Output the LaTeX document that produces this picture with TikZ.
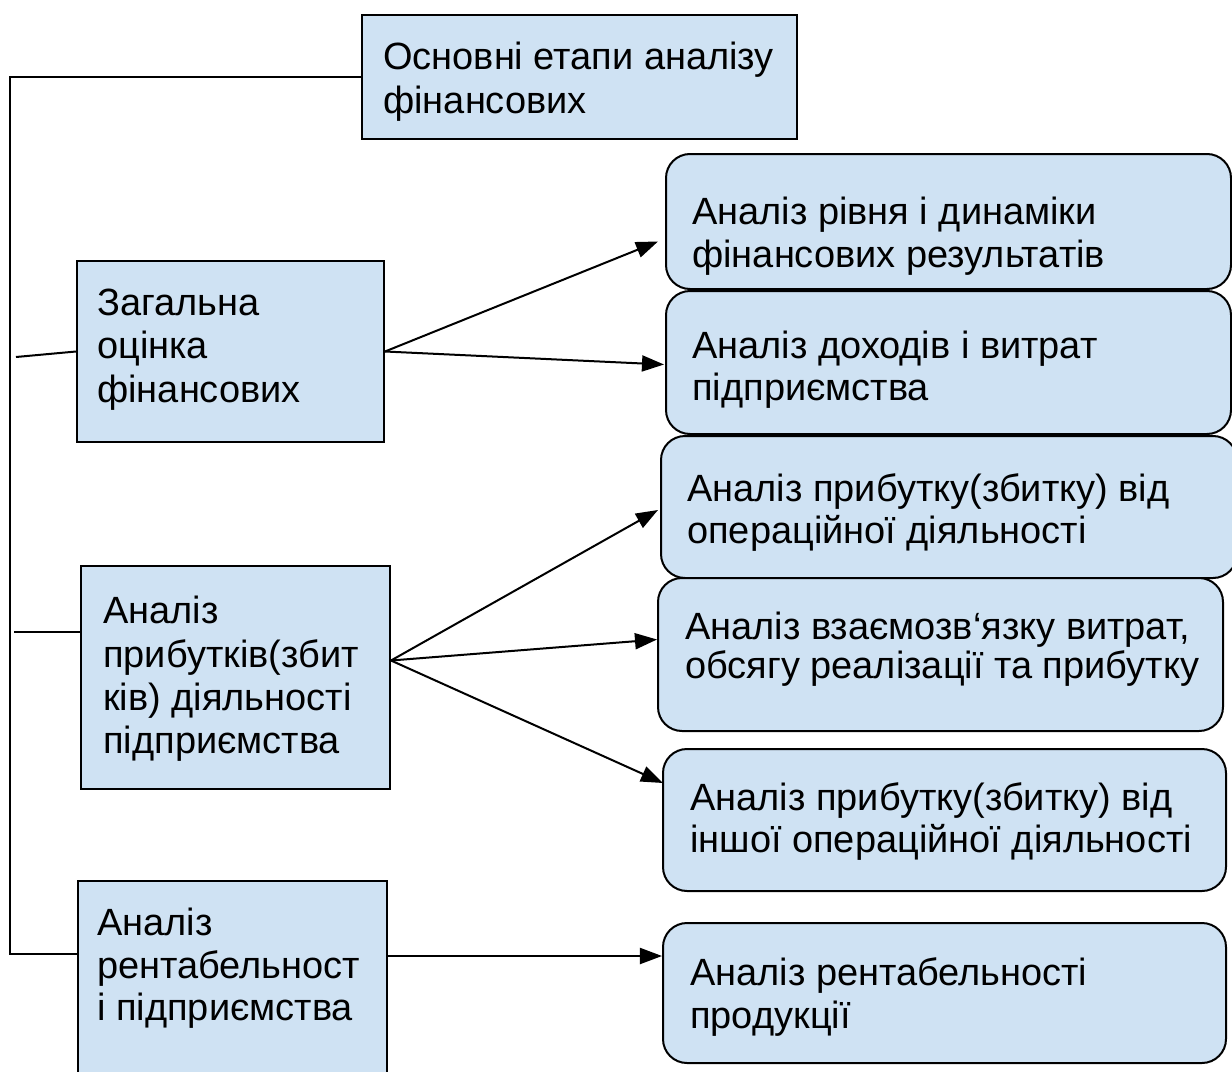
\documentclass[tikz,border=0pt]{standalone}
\usepackage{fontspec}
\setmainfont{Liberation Sans}
\usetikzlibrary{arrows.meta}

\newlength{\du}
\setlength{\du}{0.025cm}
\definecolor{stagefill}{RGB}{207,226,243}
\tikzset{
  stage/.style={draw=black, fill=stagefill, line width=2\du, anchor=north west, inner sep=0pt},
  task/.style={stage, rounded corners=24\du},
  lbl/.style={anchor=base west, inner sep=0pt, font=\fontsize{27}{31}\selectfont},
  wire/.style={line width=2\du},
  link/.style={wire, -{Triangle[length=5.5mm, width=4mm]}}
}

\begin{document}
\begin{tikzpicture}[x=\du, y=-\du]
\useasboundingbox (0,0) rectangle (1232,1072);
% left column
\node[stage, minimum width=435\du, minimum height=124\du] (goal) at (361,14) {};
\node[lbl] (goal1) at (383,69) {Основні етапи аналізу};
\node[lbl] (goal2) at (383,113) {фінансових};
\node[stage, minimum width=307\du, minimum height=181\du] (general) at (76,260) {};
\node[lbl] (gen1) at (97,315) {Загальна};
\node[lbl] (gen2) at (97,358) {оцінка};
\node[lbl] (gen3) at (97,402) {фінансових};
\node[stage, minimum width=309\du, minimum height=223\du] (profit) at (80,565) {};
\node[lbl] (prof1) at (103,623) {Аналіз};
\node[lbl] (prof2) at (103,667) {прибутків(збит};
\node[lbl] (prof3) at (103,710) {ків) діяльності};
\node[lbl] (prof4) at (103,753) {підприємства};
\node[stage, minimum width=309\du, minimum height=200\du] (rent) at (77,880) {};
\node[lbl] (rent1) at (97,935) {Аналіз};
\node[lbl] (rent2) at (97,978) {рентабельност};
\node[lbl] (rent3) at (97,1020) {і підприємства};
% right column
\node[task, minimum width=565\du, minimum height=135\du] (dyn) at (665,153) {};
\node[lbl] (dyn1) at (692,224) {Аналіз рівня і динаміки};
\node[lbl] (dyn2) at (692,267) {фінансових результатів};
\node[task, minimum width=565\du, minimum height=143\du] (income) at (665,290) {};
\node[lbl] (inc1) at (692,358) {Аналіз доходів і витрат};
\node[lbl] (inc2) at (692,400) {підприємства};
\node[task, minimum width=576\du, minimum height=142\du] (oper) at (660,435) {};
\node[lbl] (oper1) at (687,501) {Аналіз прибутку(збитку) від};
\node[lbl] (oper2) at (687,543) {операційної діяльності};
\node[task, minimum width=565\du, minimum height=153\du] (cvp) at (657,577) {};
\node[lbl] (cvp1) at (685,639) {Аналіз взаємозв‘язку витрат,};
\node[lbl] (cvp2) at (685,678) {обсягу реалізації та прибутку};
\node[task, minimum width=563\du, minimum height=142\du] (other) at (662,748) {};
\node[lbl] (oth1) at (690,810) {Аналіз прибутку(збитку) від};
\node[lbl] (oth2) at (690,852) {іншої операційної діяльності};
\node[task, minimum width=563\du, minimum height=140\du] (prod) at (662,922) {};
\node[lbl] (prod1) at (690,985) {Аналіз рентабельності};
\node[lbl] (prod2) at (690,1028) {продукції};
% connectors
\coordinate (spine top) at (10,77);
\coordinate (spine end) at (10,954);
\coordinate (gen in) at (16,357);
\coordinate (prof in) at (14,632);
\coordinate (prof out) at ([yshift=17\du]profit.east);
\coordinate (prod in) at ([yshift=37\du]prod.west);
\draw[wire] (goal.west |- spine top) -- (spine top) -- (spine end) -- (rent.west |- spine end);
\draw[wire] (gen in) -- (general.west);
\draw[wire] (prof in) -- (prof in -| profit.west);
\draw[link] (general.east) -- ([shift={(-7,20)}]dyn.west);
\draw[link] (general.east) -- ([shift={(-1,2)}]income.west);
\draw[link] (prof out) -- ([shift={(-2,3)}]oper.west);
\draw[link] (prof out) -- ([shift={(0,-15)}]cvp.west);
\draw[link] (prof out) -- ([shift={(1,-37)}]other.west);
\draw[link] (rent.east |- prod in) -- (prod in);
\end{tikzpicture}
\end{document}
